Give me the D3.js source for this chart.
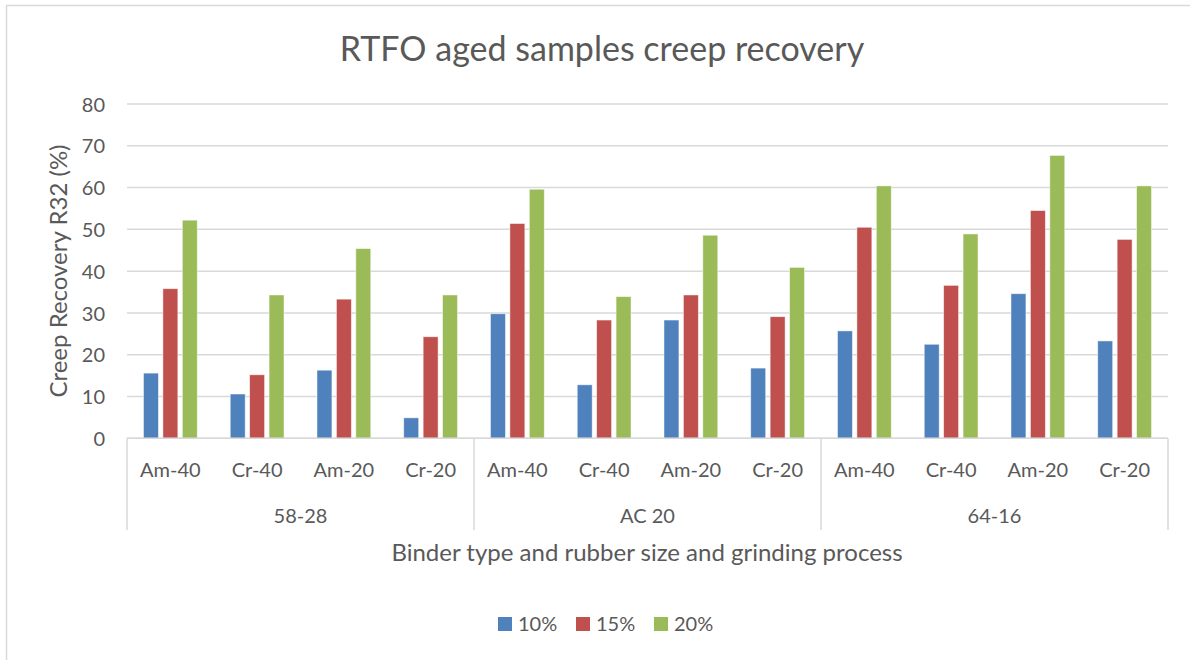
<!DOCTYPE html>
<html>
<head>
<meta charset="utf-8">
<script src="https://cdn.jsdelivr.net/npm/d3@7"></script>
<style>
  html, body { margin: 0; padding: 0; background: #fff; }
  svg text { font-family: Lato, "Open Sans", sans-serif; fill: #595959; }
</style>
</head>
<body>
<svg id="chart" width="1190" height="660"></svg>
<script>
// Binder groups and the rubber size / grinding process inside each
const groups = ["58-28", "AC 20", "64-16"];
const processes = ["Am-40", "Cr-40", "Am-20", "Cr-20"];
const series = ["10%", "15%", "20%"];
const colors = ["#4F81BD", "#C0504D", "#9BBB59"];
const yTicks = [0, 10, 20, 30, 40, 50, 60, 70, 80];

// Creep recovery R32 (%) per rubber content, in group order
const values10 = [15.6, 10.6, 16.3, 4.9, 29.8, 12.8, 28.3, 16.8, 25.7, 22.5, 34.6, 23.3];
const values15 = [35.8, 15.2, 33.3, 24.3, 51.4, 28.3, 34.3, 29.1, 50.5, 36.6, 54.5, 47.6];
const values20 = [52.2, 34.3, 45.4, 34.3, 59.6, 33.9, 48.6, 40.9, 60.4, 48.9, 67.7, 60.4];
const seriesValues = [values10, values15, values20];

const categories = [];
groups.forEach(g => processes.forEach(p => categories.push({ key: g + "|" + p, group: g, label: p })));

const svg = d3.select("#chart");
const plotLeft = 127, plotRight = 1168, plotTop = 104, plotBottom = 438.3;

// outer chart frame
svg.append("rect")
  .attr("x", 6.5).attr("y", 5.5).attr("width", 1200).attr("height", 700)
  .attr("fill", "none").attr("stroke", "#d9d9d9").attr("stroke-width", 1.5);

const x0 = d3.scaleBand().domain(categories.map(c => c.key)).range([plotLeft, plotRight]);
const bw = x0.bandwidth();
const x1 = d3.scaleBand().domain(series).range([bw * 0.19, bw * 0.81]).paddingInner(0.23);
const y = d3.scaleLinear().domain([0, 80]).range([plotBottom, plotTop]);
const xg = d3.scaleBand().domain(groups).range([plotLeft, plotRight]);

// horizontal gridlines
svg.append("g")
  .selectAll("line").data(yTicks).join("line")
  .attr("x1", plotLeft).attr("x2", plotRight)
  .attr("y1", d => y(d)).attr("y2", d => y(d))
  .attr("stroke", "#d9d9d9").attr("stroke-width", 1.5);

// y axis labels
const yAxis = d3.axisLeft(y).tickValues(yTicks).tickSize(0).tickPadding(22);
const yg = svg.append("g").attr("transform", `translate(${plotLeft},0)`).call(yAxis);
yg.select(".domain").remove();
yg.selectAll("text").style("font-size", "20px").attr("fill", "#595959").attr("dy", "0.36em");

// bars
const barG = svg.append("g");
categories.forEach((c, i) => {
  series.forEach((s, j) => {
    barG.append("rect")
      .attr("x", x0(c.key) + x1(s))
      .attr("width", x1.bandwidth())
      .attr("y", y(seriesValues[j][i]))
      .attr("height", y(0) - y(seriesValues[j][i]))
      .attr("fill", colors[j])
      .attr("stroke", "#ffffff").attr("stroke-opacity", 0.6).attr("stroke-width", 0.8);
  });
});

// category axis: baseline and group dividers
svg.append("line").attr("x1", plotLeft).attr("x2", plotRight).attr("y1", plotBottom).attr("y2", plotBottom)
  .attr("stroke", "#d9d9d9").attr("stroke-width", 1.5);
const dividers = groups.map(g => xg(g)).concat([plotRight]);
svg.append("g").selectAll("line").data(dividers).join("line")
  .attr("x1", d => d).attr("x2", d => d).attr("y1", plotBottom).attr("y2", 530)
  .attr("stroke", "#d9d9d9").attr("stroke-width", 1.5);

// process labels
svg.append("g").selectAll("text").data(categories).join("text")
  .attr("x", d => x0(d.key) + bw / 2).attr("y", 477)
  .attr("text-anchor", "middle").style("font-size", "20px")
  .text(d => d.label);

// group labels
svg.append("g").selectAll("text").data(groups).join("text")
  .attr("x", d => xg(d) + xg.bandwidth() / 2).attr("y", 523)
  .attr("text-anchor", "middle").style("font-size", "20px")
  .text(d => d);

// titles
svg.append("text").attr("x", 602).attr("y", 61).attr("text-anchor", "middle")
  .style("font-size", "34px").text("RTFO aged samples creep recovery");
svg.append("text").attr("x", 647).attr("y", 561).attr("text-anchor", "middle")
  .style("font-size", "24px").text("Binder type and rubber size and grinding process");
svg.append("text").attr("transform", "translate(67,271) rotate(-90)").attr("text-anchor", "middle")
  .style("font-size", "24px").text("Creep Recovery R32 (%)");

// legend
const legendX = [498, 576, 654];
const lg = svg.append("g").selectAll("g").data(series).join("g")
  .attr("transform", (d, i) => `translate(${legendX[i]},617)`);
lg.append("rect").attr("width", 14).attr("height", 14).attr("fill", (d, i) => colors[i]);
lg.append("text").attr("x", 20).attr("y", 14).style("font-size", "20px").text(d => d);
</script>
</body>
</html>
